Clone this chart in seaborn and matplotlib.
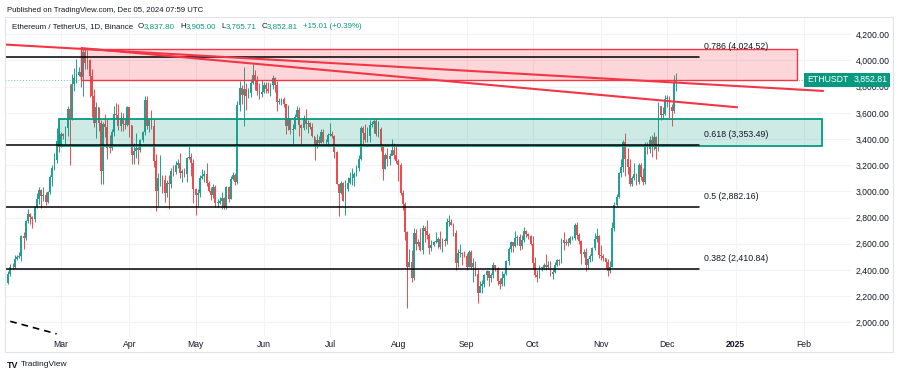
import numpy as np
import pandas as pd
import matplotlib
matplotlib.use('Agg')
import matplotlib.pyplot as plt
import matplotlib.dates as mdates
import matplotlib.transforms as mtransforms
import seaborn as sns

# ---- data: ETH/USDT daily candles (open = previous close)
first_day = '2024-02-06'
first_open = 2298
closes = [
    # Feb 6-29
    2372, 2425, 2420, 2486, 2500, 2507, 2660, 2643, 2775, 2825, 2803, 2786, 2880, 2944, 3013, 2967,
    2971, 2922, 2993, 3112, 3176, 3243, 3384, 3340,
    # Mar
    3435, 3421, 3488, 3628, 3553, 3818, 3869, 3890, 3911, 3876, 4066, 3981, 4005, 3880, 3731, 3524,
    3645, 3519, 3157, 3515, 3492, 3332, 3330, 3454, 3591, 3587, 3500, 3561, 3511, 3506, 3646,
    # Apr
    3505, 3276, 3310, 3330, 3320, 3391, 3455, 3700, 3502, 3545, 3500, 3235, 3005, 3100, 3100, 3085,
    2985, 3065, 3055, 3155, 3148, 3200, 3220, 3140, 3155, 3130, 3253, 3263, 3216, 3015,
    # May
    2970, 2988, 3103, 3117, 3136, 3063, 3006, 2974, 3035, 2910, 2912, 2930, 2950, 2882, 3035, 2945,
    3092, 3123, 3072, 3661, 3789, 3736, 3780, 3726, 3750, 3826, 3891, 3840, 3765, 3746, 3761,
    # Jun
    3815, 3780, 3765, 3810, 3866, 3811, 3681, 3681, 3705, 3665, 3500, 3560, 3470, 3475, 3565, 3620,
    3510, 3483, 3560, 3515, 3520, 3490, 3420, 3354, 3395, 3370, 3450, 3375, 3380, 3434,
    # Jul
    3440, 3420, 3300, 3060, 2985, 3065, 2930, 3015, 3065, 3100, 3100, 3130, 3175, 3250, 3485, 3445,
    3390, 3425, 3505, 3515, 3535, 3440, 3480, 3340, 3170, 3275, 3245, 3270, 3320, 3280, 3230,
    # Aug
    3200, 2990, 2900, 2690, 2420, 2460, 2340, 2680, 2600, 2610, 2555, 2720, 2700, 2665, 2570, 2590,
    2615, 2615, 2640, 2575, 2630, 2620, 2765, 2765, 2745, 2680, 2455, 2530, 2530, 2525, 2510,
    # Sep
    2425, 2540, 2425, 2450, 2370, 2225, 2275, 2295, 2360, 2390, 2340, 2360, 2440, 2415, 2315, 2295,
    2340, 2370, 2465, 2560, 2615, 2580, 2645, 2655, 2580, 2630, 2695, 2675, 2660, 2600,
    # Oct
    2450, 2365, 2350, 2415, 2415, 2440, 2420, 2440, 2370, 2385, 2440, 2475, 2465, 2630, 2605, 2610,
    2605, 2645, 2645, 2745, 2665, 2620, 2525, 2535, 2440, 2480, 2505, 2565, 2635, 2660, 2515,
    # Nov
    2510, 2495, 2460, 2395, 2425, 2720, 2895, 2960, 3140, 3185, 3375, 3245, 3185, 3060, 3100, 3130,
    3075, 3205, 3110, 3075, 3355, 3325, 3395, 3360, 3415, 3325, 3655, 3580, 3590, 3705,
    # Dec 1-5
    3710, 3645, 3615, 3837.80, 3852.81,
]
highs = [
    2389, 2445, 2450, 2518, 2513, 2537, 2665, 2688, 2785, 2866, 2833, 2809, 2890, 2984, 3032, 3015,
    3033, 2993, 3005, 3125, 3198, 3290, 3487, 3522,
    3451, 3448, 3500, 3650, 3823, 3900, 3940, 4013, 3950, 3960, 4088, 4093, 4083, 4015, 3935, 3780,
    3680, 3645, 3546, 3527, 3588, 3550, 3434, 3474, 3650, 3678, 3665, 3610, 3600, 3564, 3654,
    3647, 3510, 3368, 3444, 3340, 3397, 3460, 3730, 3728, 3560, 3618, 3552, 3287, 3140, 3280, 3125,
    3125, 3090, 3125, 3175, 3200, 3235, 3245, 3290, 3170, 3175, 3260, 3350, 3290, 3250,
    3025, 3015, 3127, 3170, 3160, 3220, 3080, 3030, 3058, 3050, 2945, 2960, 2995, 2960, 3040, 3045,
    3120, 3145, 3140, 3690, 3840, 3814, 3950, 3830, 3790, 3860, 3975, 3930, 3882, 3825, 3848,
    3833, 3835, 3835, 3830, 3888, 3877, 3840, 3710, 3717, 3720, 3670, 3658, 3535, 3518, 3588, 3650,
    3645, 3517, 3585, 3628, 3545, 3530, 3520, 3417, 3440, 3425, 3480, 3480, 3400, 3445,
    3523, 3465, 3430, 3310, 3050, 3080, 3075, 3090, 3110, 3150, 3180, 3150, 3200, 3275, 3496, 3500,
    3518, 3490, 3545, 3535, 3560, 3562, 3540, 3490, 3345, 3290, 3330, 3290, 3400, 3370, 3350,
    3245, 3220, 3010, 2920, 2700, 2560, 2555, 2720, 2710, 2640, 2720, 2740, 2735, 2780, 2680, 2630,
    2625, 2690, 2650, 2695, 2645, 2645, 2800, 2820, 2790, 2760, 2705, 2560, 2600, 2535, 2545,
    2530, 2555, 2555, 2490, 2465, 2410, 2315, 2320, 2370, 2400, 2390, 2380, 2460, 2440, 2420, 2340,
    2395, 2375, 2475, 2575, 2620, 2615, 2700, 2670, 2675, 2665, 2730, 2705, 2685, 2670,
    2660, 2500, 2400, 2440, 2425, 2455, 2520, 2465, 2470, 2410, 2460, 2485, 2480, 2645, 2690, 2640,
    2645, 2660, 2660, 2760, 2770, 2680, 2630, 2560, 2565, 2495, 2525, 2575, 2680, 2720, 2670,
    2590, 2525, 2495, 2485, 2465, 2770, 2920, 2980, 3150, 3250, 3390, 3445, 3330, 3245, 3120, 3220,
    3140, 3220, 3220, 3180, 3375, 3380, 3425, 3430, 3450, 3425, 3680, 3650, 3645, 3740,
    3735, 3725, 3670, 3890, 3905,
]
lows = [
    2296, 2353, 2405, 2415, 2474, 2488, 2468, 2561, 2628, 2758, 2753, 2722, 2770, 2870, 2905, 2870,
    2926, 2893, 2910, 2983, 3040, 3165, 3217, 3303,
    3338, 3400, 3361, 3425, 3200, 3542, 3767, 3829, 3883, 3800, 3726, 3935, 3936, 3720, 3570, 3491,
    3408, 3460, 3056, 3060, 3418, 3245, 3297, 3313, 3420, 3554, 3466, 3465, 3461, 3480, 3497,
    3418, 3212, 3210, 3256, 3213, 3300, 3380, 3433, 3475, 3455, 3480, 3190, 2852, 2887, 3040, 2985,
    2918, 2955, 2865, 3025, 3120, 3132, 3178, 3100, 3070, 3110, 3075, 3245, 3120, 2915,
    2817, 2890, 2958, 3095, 3075, 3045, 2995, 2935, 2950, 2880, 2880, 2900, 2862, 2865, 2862, 2920,
    2940, 3090, 3050, 3060, 3615, 3665, 3500, 3625, 3715, 3722, 3820, 3775, 3740, 3702, 3720,
    3752, 3755, 3755, 3732, 3780, 3760, 3612, 3670, 3660, 3645, 3435, 3467, 3438, 3360, 3475, 3553,
    3420, 3360, 3472, 3475, 3445, 3477, 3412, 3240, 3335, 3353, 3368, 3370, 3365, 3360,
    3420, 3405, 3255, 3055, 2810, 2980, 2925, 2820, 3000, 3055, 3050, 3040, 3115, 3155, 3240, 3360,
    3380, 3380, 3375, 3490, 3445, 3424, 3415, 3305, 3088, 3170, 3195, 3200, 3310, 3250, 3215,
    3080, 2975, 2860, 2630, 2111, 2420, 2310, 2320, 2555, 2585, 2545, 2525, 2610, 2640, 2525, 2545,
    2585, 2605, 2570, 2560, 2535, 2585, 2600, 2735, 2740, 2660, 2400, 2420, 2500, 2435, 2500,
    2400, 2425, 2410, 2310, 2355, 2150, 2255, 2225, 2270, 2325, 2275, 2310, 2340, 2395, 2285, 2255,
    2275, 2275, 2360, 2440, 2535, 2535, 2575, 2590, 2555, 2560, 2615, 2650, 2635, 2590,
    2410, 2345, 2310, 2340, 2390, 2405, 2400, 2410, 2355, 2330, 2375, 2430, 2440, 2450, 2550, 2590,
    2585, 2595, 2630, 2630, 2640, 2600, 2445, 2500, 2395, 2410, 2460, 2470, 2550, 2610, 2490,
    2475, 2470, 2415, 2355, 2380, 2420, 2700, 2880, 2950, 3110, 3145, 3120, 3130, 3040, 3040, 3090,
    3050, 3060, 3090, 3050, 3055, 3285, 3290, 3265, 3320, 3250, 3305, 3545, 3560, 3580,
    3645, 3560, 3500, 3600, 3765.71,
]

# ---- chart drawings (fibonacci levels, zones, trend lines)
fib_levels = [4024.52, 3353.49, 2882.16, 2410.84]
fib_labels = ['0.786 (4,024.52)', '0.618 (3,353.49)', '0.5 (2,882.16)', '0.382 (2,410.84)']
fib_end = '2024-12-15 12:00'
red_zone = ['2024-03-10', '2025-01-29', 3850, 4090]     # x0, x1, y0, y1
green_zone = ['2024-02-29', '2025-02-09', 3350, 3552]
trend_a = [('2024-02-01', 4125), ('2025-02-10', 3767)]
trend_b = [('2024-03-10', 4095), ('2025-01-02', 3642)]
dashed_line = [('2024-02-01', 2035), ('2024-02-28', 1912)]
last_price = 3852.81

UP = '#1fa293'
DOWN = '#ee4b4f'
TEAL = '#089981'
RED = '#f23645'
TXT = '#131722'

sns.set_theme(style='white')
plt.rcParams['font.family'] = ['Liberation Sans', 'DejaVu Sans']

dates = pd.date_range(first_day, periods=len(closes), freq='D')
df = pd.DataFrame({'date': dates, 'close': closes, 'high': highs, 'low': lows})
df['open'] = [first_open] + closes[:-1]
df['x'] = mdates.date2num(df['date'])
df['up'] = df['close'] >= df['open']
colors = np.where(df['up'], UP, DOWN)

W, H = 900, 376
fig = plt.figure(figsize=(W / 100, H / 100), dpi=100)
ax = fig.add_axes([5 / W, 1 - 337 / H, (851 - 5) / W, (337 - 17) / H])

x0 = mdates.date2num(pd.Timestamp('2024-02-04 14:00'))
x1 = mdates.date2num(pd.Timestamp('2025-02-22 08:00'))
ax.set_xlim(x0, x1)
ax.set_ylim(1888, 4332)

# grid
months = pd.date_range('2024-03-01', '2025-02-01', freq='MS')
for m in months:
    ax.axvline(mdates.date2num(m), color='#f0f3fa', lw=0.8, zorder=0)
yt = np.arange(2000, 4201, 200)
for v in yt:
    ax.axhline(v, color='#f0f3fa', lw=0.8, zorder=0)

# candles
ax.vlines(df['x'], df['low'], df['high'], colors=colors, lw=0.7, zorder=2)
body_lo = np.minimum(df['open'], df['close'])
body_h = np.maximum(np.abs(df['close'] - df['open']), 6)
ax.bar(df['x'], body_h, bottom=body_lo, width=0.82, color=colors, lw=0, zorder=3)

# last price dotted line
ax.axhline(last_price, color=TEAL, lw=0.7, ls=(0, (1, 2)), alpha=0.6, zorder=1)

# zones
for zone, col, lw in [(red_zone, RED, 1.0), (green_zone, TEAL, 1.3)]:
    zx0 = mdates.date2num(pd.Timestamp(zone[0]))
    zx1 = mdates.date2num(pd.Timestamp(zone[1]))
    ax.add_patch(plt.Rectangle((zx0, zone[2]), zx1 - zx0, zone[3] - zone[2],
                               facecolor=matplotlib.colors.to_rgba(col, 0.2),
                               edgecolor=col, lw=lw, zorder=4))

# fib levels
fe = mdates.date2num(pd.Timestamp(fib_end))
for lvl, lab in zip(fib_levels, fib_labels):
    ax.plot([x0 - 30, fe], [lvl, lvl], color='#000000', lw=1.1, zorder=5)
    ax.text(fe + 2.2, lvl + 45, lab, fontsize=6.3, color=TXT, ha='left', va='bottom', zorder=6)

# trend lines
for line in [trend_a, trend_b]:
    xs = [mdates.date2num(pd.Timestamp(p[0])) for p in line]
    ys = [p[1] for p in line]
    ax.plot(xs, ys, color=RED, lw=1.5, zorder=5, solid_capstyle='butt')

xs = [mdates.date2num(pd.Timestamp(p[0])) for p in dashed_line]
ax.plot(xs, [p[1] for p in dashed_line], color='#000000', lw=1.2, ls=(0, (4, 3)), zorder=5)

# axes styling
for s in ax.spines.values():
    s.set_visible(False)
ax.yaxis.tick_right()
ax.set_yticks(yt)
ax.set_yticklabels([f'{v:,.2f}' for v in yt])
ax.tick_params(axis='y', length=0, pad=3.5, labelsize=6.2, labelcolor=TXT)
ax.set_xticks([mdates.date2num(m) for m in months])
ax.set_xticklabels([m.strftime('%b') if m.month != 1 else '2025' for m in months])
ax.tick_params(axis='x', length=0, pad=2.5, labelsize=6.2, labelcolor=TXT)
for lab in ax.get_xticklabels():
    if lab.get_text() == '2025':
        lab.set_fontweight('bold')

# price tag on the right
blend = mtransforms.blended_transform_factory(ax.transAxes, ax.transData)
ax.text(1.003, last_price, '3,852.81', transform=blend, fontsize=6.3, color='white',
        ha='left', va='center', zorder=10, clip_on=False,
        bbox=dict(boxstyle='square,pad=0.3', fc=TEAL, ec='none'))
ax.text(0.997, last_price, 'ETHUSDT', transform=blend, fontsize=6.3, color='white',
        ha='right', va='center', zorder=10, clip_on=False,
        bbox=dict(boxstyle='square,pad=0.3', fc=TEAL, ec='none'))

# frame around chart
fig.add_artist(plt.Rectangle((5 / W, 1 - 352 / H), (893 - 5) / W, (352 - 17) / H,
                             transform=fig.transFigure, fill=False, ec='#e0e3eb', lw=0.8))

# header texts
fig.text(7 / W, 1 - 10 / H, 'Published on TradingView.com, Dec 05, 2024 07:59 UTC',
         fontsize=5.6, color=TXT, ha='left', va='center')

renderer = fig.canvas.get_renderer()
pieces = [('Ethereum / TetherUS, 1D, Binance', TXT, 0), ('O', TXT, 5), ('3,837.80', TEAL, 0),
          ('H', TXT, 5), ('3,905.00', TEAL, 0), ('L', TXT, 5), ('3,765.71', TEAL, 0),
          ('C', TXT, 5), ('3,852.81', TEAL, 0), ('+15.01 (+0.39%)', TEAL, 5)]
xp = 12
for txt, col, gap in pieces:
    xp += gap
    t = fig.text(xp / W, 1 - 27 / H, txt, fontsize=5.7, color=col, ha='left', va='center')
    xp += t.get_window_extent(renderer).width

# footer logo
fig.text(7 / W, 1 - 365 / H, 'TV', fontsize=6.5, fontweight='bold', color=TXT, ha='left', va='center')
fig.text(21 / W, 1 - 365 / H, 'TradingView', fontsize=6.0, color=TXT, ha='left', va='center')

fig.savefig('out.png', dpi=100, facecolor='white')
